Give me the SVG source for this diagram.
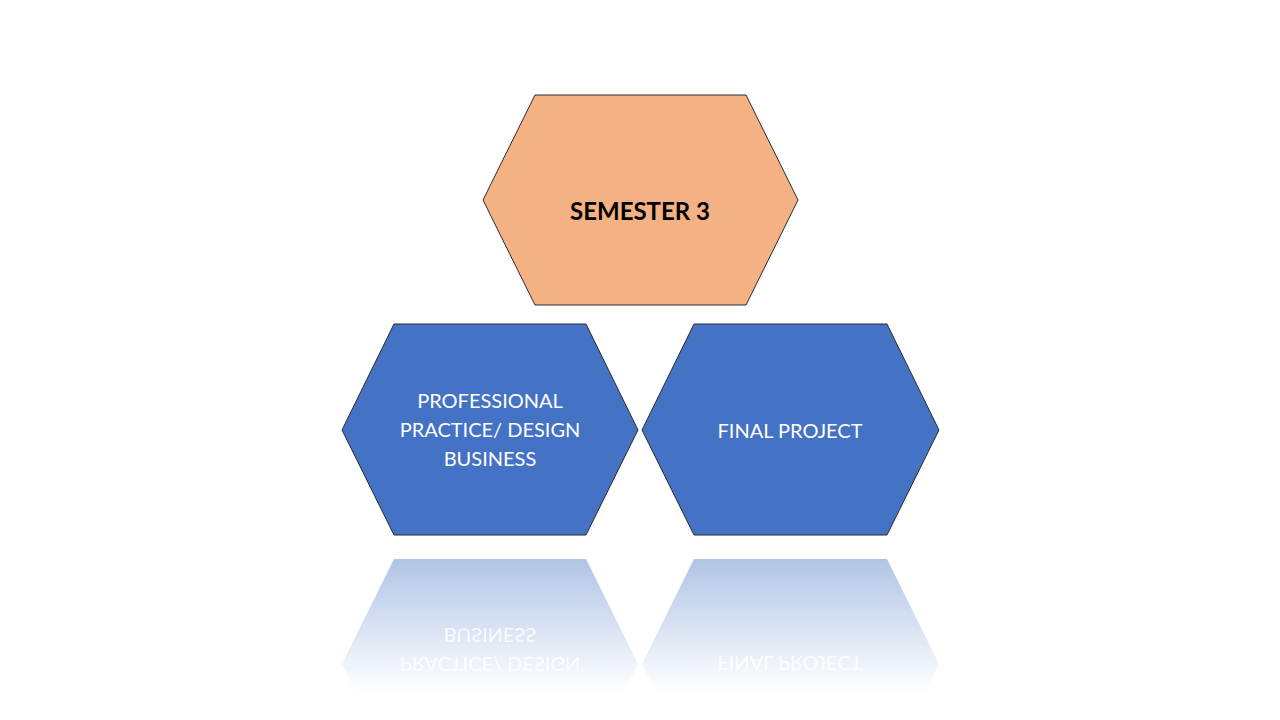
<svg xmlns="http://www.w3.org/2000/svg" xmlns:xlink="http://www.w3.org/1999/xlink" width="1280" height="720" viewBox="0 0 1280 720">
<style>
.hex{stroke:#2b2b2b;stroke-width:1}
.blue{fill:#4472c4}
.orange{fill:#f4b183}
.lbl{font-family:Lato,"Open Sans","Liberation Sans",sans-serif;font-size:20px;fill:#ffffff;text-anchor:middle}
.title{font-family:Lato,"Open Sans","Liberation Sans",sans-serif;font-size:24px;font-weight:bold;fill:#000000;text-anchor:middle}
</style>
<defs>
<linearGradient id="fade" gradientUnits="userSpaceOnUse" x1="0" y1="559" x2="0" y2="692">
<stop offset="0" stop-color="#fff" stop-opacity="0.42"/>
<stop offset="1" stop-color="#fff" stop-opacity="0"/>
</linearGradient>
<mask id="reflMask" maskUnits="userSpaceOnUse" x="0" y="540" width="1280" height="180">
<rect x="0" y="540" width="1280" height="180" fill="url(#fade)"/>
</mask>
</defs>
<rect width="1280" height="720" fill="#ffffff"/>
<g id="connectors"/>
<g id="node-semester3">
<polygon class="hex orange" points="535,95 746,95 798,200 746,305 535,305 483,200"/>
<text class="title" x="640" y="220">SEMESTER 3</text>
</g>
<g id="node-professional">
<polygon class="hex blue" points="394,324 586,324 638,430 586,535 394,535 342,430"/>
<text class="lbl" x="490" y="408">PROFESSIONAL</text>
<text class="lbl" x="490" y="437">PRACTICE/ DESIGN</text>
<text class="lbl" x="490" y="466">BUSINESS</text>
</g>
<g id="node-final">
<polygon class="hex blue" points="694,324 887,324 939,430 887,535 694,535 642,430"/>
<text class="lbl" x="790" y="438">FINAL PROJECT</text>
</g>
<g id="reflection" mask="url(#reflMask)">
<g transform="translate(0,1094) scale(1,-1)">
<polygon class="blue" points="394,324 586,324 638,430 586,535 394,535 342,430"/>
<polygon class="blue" points="694,324 887,324 939,430 887,535 694,535 642,430"/>
</g>
</g>
<g id="reflection-text" opacity="0.85" transform="translate(0,1094) scale(1,-1)">
<text class="lbl" x="490" y="437">PRACTICE/ DESIGN</text>
<text class="lbl" x="490" y="466">BUSINESS</text>
<text class="lbl" x="790" y="438">FINAL PROJECT</text>
</g>
</svg>
